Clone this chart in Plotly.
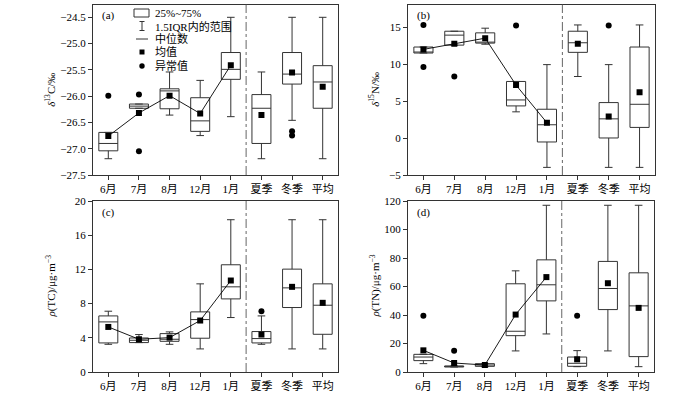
import plotly.graph_objects as go

W, H = 700, 395
FONT = "Liberation Serif, Noto Sans CJK SC, serif"
LC = "#333333"

categories = ["6月", "7月", "8月", "12月", "1月", "夏季", "冬季", "平均"]
months = categories[:5]

# (a) δ13C
a_q1 = [-27.04, -26.23, -26.24, -26.67, -25.68, -26.90, -25.77, -26.23]
a_med = [-26.90, -26.19, -25.90, -26.47, -25.49, -26.23, -25.58, -25.73]
a_q3 = [-26.69, -26.15, -25.86, -26.03, -25.17, -25.97, -25.17, -25.42]
a_low = [-27.19, -26.23, -26.36, -26.75, -26.39, -27.19, -26.46, -27.19]
a_up = [-26.69, -26.15, -25.54, -25.70, -24.50, -25.54, -24.50, -24.50]
a_mean = [-26.76, -26.32, -25.99, -26.33, -25.41, -26.36, -25.55, -25.82]
a_out_x = ["6月", "7月", "7月", "冬季", "冬季"]
a_out_y = [-25.99, -25.97, -27.05, -26.67, -26.75]

# (b) δ15N
b_q1 = [11.51, 12.58, 12.85, 4.35, -0.53, 11.60, 0.01, 1.44]
b_med = [11.60, 13.93, 12.90, 5.16, 1.80, 12.90, 2.60, 4.57]
b_q3 = [12.32, 14.46, 14.24, 7.66, 3.90, 14.46, 4.80, 12.32]
b_low = [11.51, 12.58, 12.70, 3.55, -3.97, 8.33, -3.97, -3.97]
b_up = [12.32, 14.46, 14.87, 7.66, 9.94, 15.31, 9.94, 15.31]
b_mean = [12.00, 12.76, 13.52, 7.17, 2.07, 12.76, 2.92, 6.19]
b_out_x = ["6月", "6月", "7月", "12月", "冬季"]
b_out_y = [15.31, 9.63, 8.33, 15.22, 15.22]

# (c) ρ(TC)
c_q1 = [3.40, 3.44, 3.59, 3.95, 8.55, 3.40, 7.54, 4.41]
c_med = [5.86, 3.71, 3.83, 6.13, 9.96, 3.91, 9.84, 7.81]
c_q3 = [6.56, 3.98, 4.49, 7.03, 12.54, 4.73, 12.03, 10.31]
c_low = [3.24, 3.44, 3.24, 2.70, 6.37, 3.24, 2.70, 2.70]
c_up = [7.11, 4.38, 4.69, 10.31, 17.81, 6.56, 17.81, 17.81]
c_mean = [5.27, 3.83, 4.02, 6.02, 10.70, 4.38, 9.96, 8.09]
c_out_x = ["夏季"]
c_out_y = [7.11]

# (d) ρ(TN)
d_q1 = [7.97, 3.50, 3.98, 25.5, 49.9, 4.00, 43.8, 10.8]
d_med = [10.5, 4.00, 4.90, 28.6, 61.2, 6.10, 58.6, 46.4]
d_q3 = [12.4, 4.20, 5.86, 61.9, 78.7, 10.5, 77.6, 69.6]
d_low = [5.86, 3.50, 3.75, 14.8, 26.7, 3.75, 14.8, 3.75]
d_up = [12.4, 4.20, 5.86, 71.0, 117.0, 15.0, 117.0, 117.0]
d_mean = [15.2, 6.30, 4.90, 40.3, 66.6, 8.90, 62.3, 45.0]
d_out_x = ["6月", "7月", "夏季"]
d_out_y = [39.4, 15.0, 39.4]

panel_labels = ["(a)", "(b)", "(c)", "(d)"]
y_titles = ["<i>δ</i><sup>13</sup>C/‰", "<i>δ</i><sup>15</sup>N/‰",
            "<i>ρ</i>(TC)/μg·m<sup>−3</sup>", "<i>ρ</i>(TN)/μg·m<sup>−3</sup>"]
legend_texts = ["25%~75%", "1.5IQR内的范围", "中位数", "均值", "异常值"]


def px(x):
    return x / W


def py(y):
    return 1 - y / H


panels = [
    (a_q1, a_med, a_q3, a_low, a_up, a_mean, a_out_x, a_out_y),
    (b_q1, b_med, b_q3, b_low, b_up, b_mean, b_out_x, b_out_y),
    (c_q1, c_med, c_q3, c_low, c_up, c_mean, c_out_x, c_out_y),
    (d_q1, d_med, d_q3, d_low, d_up, d_mean, d_out_x, d_out_y),
]
# pixel boxes of plot areas: (left, right, top, bottom)
areas = [(93, 338, 4.7, 175), (408, 655, 4.7, 175), (93, 338, 201, 372), (408, 654, 201, 372)]
title_x = [50, 374, 51, 375]

fig = go.Figure()
for i, (q1, med, q3, low, up, mean, ox, oy) in enumerate(panels):
    xa = "x" if i == 0 else f"x{i+1}"
    ya = "y" if i == 0 else f"y{i+1}"
    fig.add_trace(go.Box(
        x=categories, q1=q1, median=med, q3=q3, lowerfence=low, upperfence=up,
        boxpoints=False, width=0.62, whiskerwidth=0.4,
        line=dict(color=LC, width=1), fillcolor="white",
        showlegend=False, hoverinfo="skip", xaxis=xa, yaxis=ya))
    fig.add_trace(go.Scatter(
        x=months, y=mean[:5], mode="lines+markers",
        line=dict(color="black", width=0.9),
        marker=dict(symbol="square", size=6, color="black"),
        showlegend=False, xaxis=xa, yaxis=ya))
    fig.add_trace(go.Scatter(
        x=categories[5:], y=mean[5:], mode="markers",
        marker=dict(symbol="square", size=6, color="black"),
        showlegend=False, xaxis=xa, yaxis=ya))
    fig.add_trace(go.Scatter(
        x=ox, y=oy, mode="markers",
        marker=dict(symbol="circle", size=6, color="black"),
        showlegend=False, xaxis=xa, yaxis=ya))

yaxis_specs = [
    dict(range=[-27.5, -24.26], tickvals=[-27.5, -27.0, -26.5, -26.0, -25.5, -25.0, -24.5], tickformat=".1f"),
    dict(range=[-5, 18.05], tick0=-5, dtick=5),
    dict(range=[0, 20], tick0=0, dtick=4),
    dict(range=[0, 120], tick0=0, dtick=20),
]

layout = dict(
    width=W, height=H, margin=dict(l=0, r=0, t=0, b=0),
    paper_bgcolor="white", plot_bgcolor="white",
    font=dict(family=FONT, size=11, color="black"),
    showlegend=False,
)
common = dict(showline=True, mirror=True, linecolor=LC, linewidth=1, ticks="outside",
              ticklen=4, tickcolor=LC, tickwidth=1, showgrid=False, zeroline=False,
              automargin=False, tickfont=dict(family=FONT, size=11, color="black"))
annotations = []
shapes = []
for i, (l, r, t, b) in enumerate(areas):
    xk = "xaxis" if i == 0 else f"xaxis{i+1}"
    yk = "yaxis" if i == 0 else f"yaxis{i+1}"
    ya = "y" if i == 0 else f"y{i+1}"
    xa = "x" if i == 0 else f"x{i+1}"
    layout[xk] = dict(domain=[px(l), px(r)], anchor=ya, type="category",
                      categoryorder="array", categoryarray=categories,
                      range=[-0.5, 7.5], **common)
    layout[yk] = dict(domain=[py(b), py(t)], anchor=xa, **yaxis_specs[i], **common)
    shapes.append(dict(type="line", xref=xa, yref=f"{ya} domain", x0=4.5, x1=4.5, y0=0, y1=1,
                       line=dict(color="#666666", width=1, dash="dashdot")))
    annotations.append(dict(text=panel_labels[i], xref="paper", yref="paper",
                            x=px(l + 15), y=py(t + 11), showarrow=False,
                            xanchor="center", yanchor="middle", font=dict(size=11)))
    annotations.append(dict(text=y_titles[i], xref="paper", yref="paper",
                            x=px(title_x[i]), y=py((t + b) / 2), showarrow=False,
                            textangle=-90, xanchor="center", yanchor="middle",
                            font=dict(size=11)))

# legend drawn in panel (a)
rows_y = [13, 26, 39, 52, 66]
for k, txt in enumerate(legend_texts):
    annotations.append(dict(text=txt, xref="paper", yref="paper", x=px(153), y=py(rows_y[k]),
                            showarrow=False, xanchor="left", yanchor="middle",
                            font=dict(size=11)))
shapes += [
    dict(type="rect", xref="paper", yref="paper", x0=px(134), x1=px(149), y0=py(17), y1=py(9),
         line=dict(color=LC, width=1), fillcolor="white"),
    dict(type="line", xref="paper", yref="paper", x0=px(142), x1=px(142), y0=py(30.5), y1=py(21.5),
         line=dict(color=LC, width=1)),
    dict(type="line", xref="paper", yref="paper", x0=px(139.5), x1=px(144.5), y0=py(21.5), y1=py(21.5),
         line=dict(color=LC, width=1)),
    dict(type="line", xref="paper", yref="paper", x0=px(139.5), x1=px(144.5), y0=py(30.5), y1=py(30.5),
         line=dict(color=LC, width=1)),
    dict(type="line", xref="paper", yref="paper", x0=px(136), x1=px(148), y0=py(39), y1=py(39),
         line=dict(color=LC, width=1)),
    dict(type="rect", xref="paper", yref="paper", x0=px(139.5), x1=px(144.5), y0=py(54.5), y1=py(49.5),
         line=dict(color="black", width=0), fillcolor="black"),
    dict(type="circle", xref="paper", yref="paper", x0=px(139.3), x1=px(144.7), y0=py(68.7), y1=py(63.3),
         line=dict(color="black", width=0), fillcolor="black"),
]
layout["annotations"] = annotations
layout["shapes"] = shapes
fig.update_layout(**layout)
fig.write_html("out.html", config={"displayModeBar": False},
               post_script="document.body.style.margin='0px';document.body.style.padding='0px';")
